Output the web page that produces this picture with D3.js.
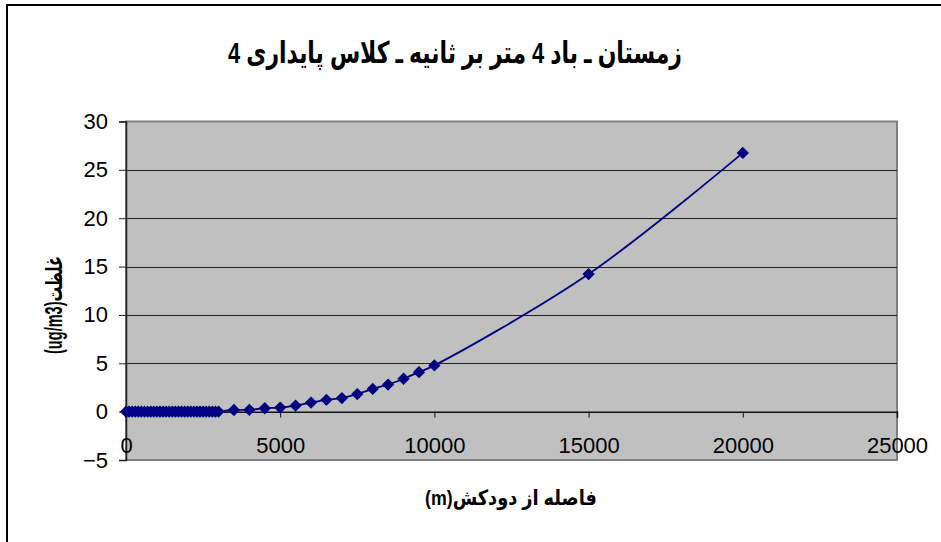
<!DOCTYPE html>
<html>
<head>
<meta charset="utf-8">
<script src="https://cdn.jsdelivr.net/npm/d3@7"></script>
<style>
  body { margin: 0; background: #fff; }
  svg { display: block; font-family: "Liberation Sans", Arial, "DejaVu Sans", sans-serif; }
</style>
</head>
<body>
<div id="chart"></div>
<script>
const WIDTH = 941;
const HEIGHT = 542;

const TITLE = "زمستان ـ باد 4 متر بر ثانیه ـ کلاس پایداری 4";
const X_LABEL = "فاصله از دودکش(m)";
const Y_LABEL = "غلظت(ug/m3)";

// distance from stack (m)
const distances = [
    0, 100, 200, 300, 400, 500, 600, 700, 800, 900,
    1000, 1100, 1200, 1300, 1400, 1500, 1600, 1700, 1800, 1900,
    2000, 2100, 2200, 2300, 2400, 2500, 2600, 2700, 2800, 2900, 3000,
    3500, 4000, 4500, 5000, 5500, 6000, 6500, 7000, 7500, 8000,
    8500, 9000, 9500, 10000, 15000, 20000
];
// concentration (ug/m3)
const concentrations = [
    0, 0, 0, 0, 0, 0, 0, 0, 0, 0,
    0, 0, 0, 0, 0, 0, 0, 0, 0, 0,
    0, 0, 0, 0, 0, 0, 0, 0, 0, 0, 0.01,
    0.17, 0.19, 0.35, 0.42, 0.63, 0.94, 1.22, 1.4, 1.82, 2.35,
    2.8, 3.4, 4.08, 4.78, 14.22, 26.75
];

const xTicks = [0, 5000, 10000, 15000, 20000, 25000];
const yTicks = [-5, 0, 5, 10, 15, 20, 25, 30];

const data = distances.map((d, i) => ({ x: d, y: concentrations[i] }));

const plot = { left: 126, right: 897, top: 121.5, bottom: 460 };

const svg = d3.select("#chart").append("svg")
    .attr("width", WIDTH)
    .attr("height", HEIGHT);

// squeeze a text node horizontally to a target width (Arabic fallback font runs wide)
function fitWidth(sel, target) {
    const node = sel.node();
    const w = node.getComputedTextLength();
    const k = Math.min(1, target / w);
    const cx = +sel.attr("x");
    sel.attr("transform", `translate(${cx},0) scale(${k},1) translate(${-cx},0)`);
}

// chart frame
svg.append("path")
    .attr("d", `M7,${HEIGHT} V5 H${WIDTH}`)
    .attr("fill", "none")
    .attr("stroke", "#000")
    .attr("stroke-width", 2);

const x = d3.scaleLinear().domain([0, 25000]).range([plot.left, plot.right]);
const y = d3.scaleLinear().domain([-5, 30]).range([plot.bottom, plot.top]);

// plot area
svg.append("rect")
    .attr("x", plot.left)
    .attr("y", plot.top)
    .attr("width", plot.right - plot.left)
    .attr("height", plot.bottom - plot.top)
    .attr("fill", "#c0c0c0")
    .attr("stroke", "#808080")
    .attr("stroke-width", 2);

// horizontal gridlines
svg.append("g")
    .selectAll("line")
    .data(yTicks.filter(t => t !== -5 && t !== 30 && t !== 0))
    .join("line")
    .attr("x1", plot.left)
    .attr("x2", plot.right)
    .attr("y1", d => Math.round(y(d)) + 0.5)
    .attr("y2", d => Math.round(y(d)) + 0.5)
    .attr("stroke", "#222")
    .attr("stroke-width", 1.2);

// y axis
const yAxis = svg.append("g")
    .attr("transform", `translate(${plot.left},0)`)
    .call(d3.axisLeft(y).tickValues(yTicks).tickSize(7).tickPadding(11).tickFormat(d3.format("d")));
yAxis.select(".domain").attr("stroke", "#222").attr("stroke-width", 1.5);
yAxis.selectAll(".tick line").attr("stroke", "#222");
yAxis.selectAll("text")
    .attr("font-size", 22)
    .attr("font-family", "'Liberation Sans', Arial, sans-serif")
    .attr("fill", "#000");

// x axis at y = 0
const xAxis = svg.append("g")
    .attr("transform", `translate(0,${y(0)})`)
    .call(d3.axisBottom(x).tickValues(xTicks).tickSize(6).tickPadding(20).tickFormat(d3.format("d")));
xAxis.select(".domain").attr("stroke", "#111").attr("stroke-width", 1.5);
xAxis.selectAll(".tick line").attr("stroke", "#111");
xAxis.selectAll("text")
    .attr("font-size", 22)
    .attr("font-family", "'Liberation Sans', Arial, sans-serif")
    .attr("fill", "#000");

// series line (smoothed)
const line = d3.line()
    .x(d => x(d.x))
    .y(d => y(d.y))
    .curve(d3.curveCatmullRom.alpha(0.5));

svg.append("path")
    .datum(data)
    .attr("d", line)
    .attr("fill", "none")
    .attr("stroke", "#000080")
    .attr("stroke-width", 1.8);

// diamond markers
const marker = d3.symbol().type(d3.symbolSquare).size(76);
svg.append("g")
    .selectAll("path")
    .data(data)
    .join("path")
    .attr("d", marker)
    .attr("transform", d => `translate(${x(d.x)},${y(d.y)}) rotate(45)`)
    .attr("fill", "#000080");

// title
const title = svg.append("text")
    .attr("x", 455)
    .attr("y", 63)
    .attr("text-anchor", "middle")
    .attr("direction", "rtl")
    .attr("font-size", 30)
    .attr("font-weight", "bold")
    .text(TITLE);
fitWidth(title, 454);

// axis titles
const xTitle = svg.append("text")
    .attr("x", 511)
    .attr("y", 505)
    .attr("text-anchor", "middle")
    .attr("direction", "rtl")
    .attr("font-size", 21)
    .attr("font-weight", "bold")
    .text(X_LABEL);
fitWidth(xTitle, 172);

const yG = svg.append("g").attr("transform", "translate(62,305) rotate(-90)");
const yTitle = yG.append("text")
    .attr("x", 0)
    .attr("y", 0)
    .attr("text-anchor", "middle")
    .attr("direction", "rtl")
    .attr("font-size", 23)
    .attr("font-weight", "bold")
    .text(Y_LABEL);
fitWidth(yTitle, 98);
</script>
</body>
</html>
